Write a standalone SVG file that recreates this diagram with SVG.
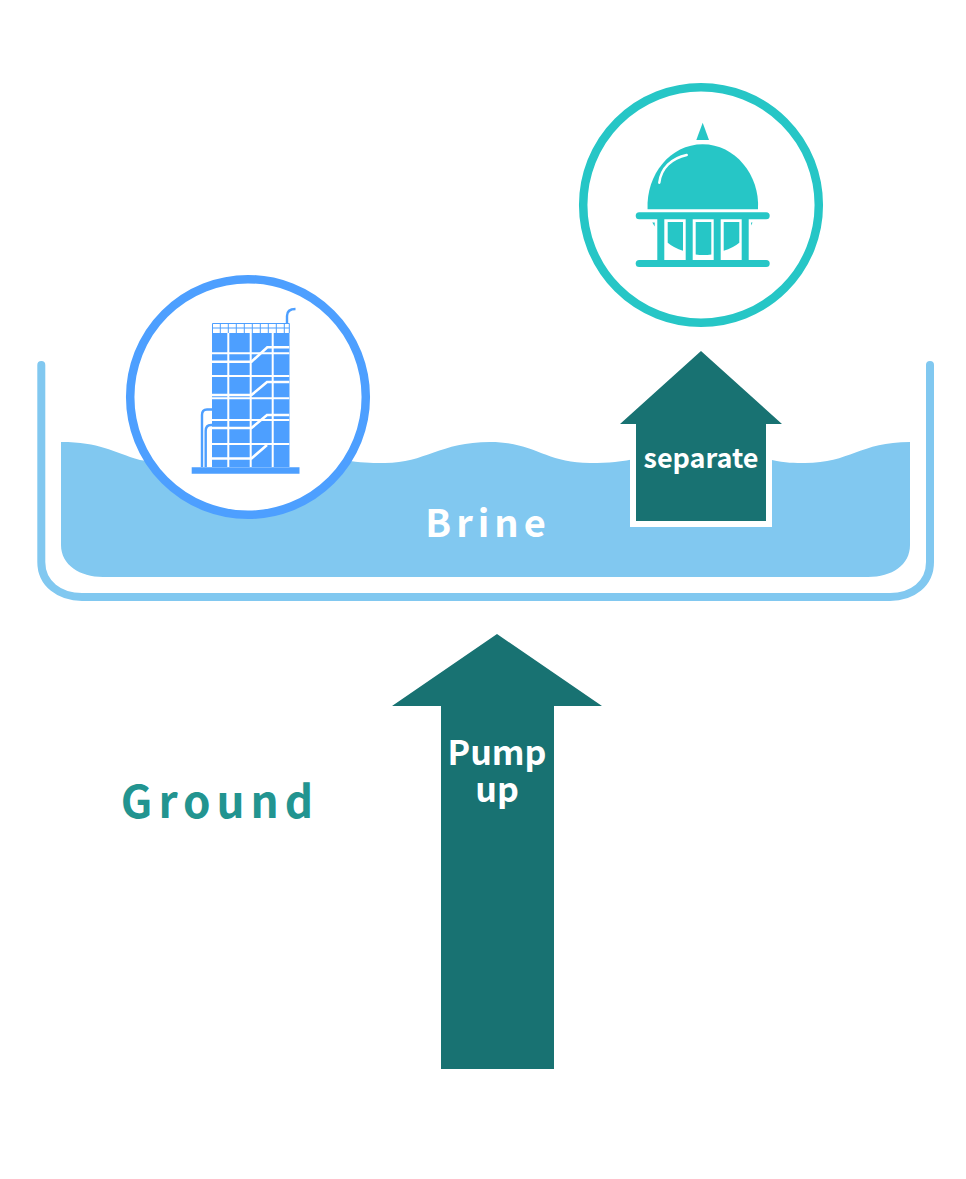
<svg xmlns="http://www.w3.org/2000/svg" width="966" height="1179" viewBox="0 0 966 1179">
<style>
text{font-family:"Noto Sans CJK JP","Noto Sans",sans-serif;font-weight:700;text-anchor:middle}
.lbl{fill:#fff}
.arrow{fill:#187272}
.ring{fill:#fff;stroke-width:8.5}
.bl{fill:none;stroke:#fff;stroke-width:2}
.st{fill:none;stroke:#fff;stroke-width:2.600}
.pipe{fill:none;stroke:#4d9fff;stroke-width:2.400}
.teal{fill:#26c6c6}
</style>
<rect width="966" height="1179" fill="#fff"/>
<g id="tank">
<path d="M41.300 365V562C41.300 584 60 597 82 597H890C912 597 930 584 930 562V365" fill="none" stroke="#81c8f0" stroke-width="8" stroke-linecap="round"/>
</g>
<g id="brine">
<path d="M61 442C100 442 112 452 140 460C200 470 300 470 350 461C365 463 375 463 385 463C425 463 440 442 490 442C535 442 545 463 590 463C610 463 620 462 640 458V527H772V460C785 463 795 463 805 463C850 463 860 442 910 442V545C910 565 892 577 868 577H103C80 577 61 565 61 545Z" fill="#81c8f0"/>
<text class="lbl" x="488" y="537" font-size="38" letter-spacing="5">Brine</text>
</g>
<g id="separate">
<path d="M630 424H772V527H630Z" fill="#fff"/>
<path class="arrow" d="M701 351L782 424H766V521H636V424H620Z"/>
<text class="lbl" x="701" y="468" font-size="27">separate</text>
</g>
<g id="plant">
<circle class="ring" cx="248" cy="397" r="117.800" stroke="#4d9fff"/>
<path fill="#4d9fff" d="M212 333H289.500V467H212Z"/>
<path fill="#4d9fff" d="M191.700 467.300H299.500V473.700H191.700Z"/>
<path fill="none" stroke="#4d9fff" stroke-width="1" d="M212.500 323.500H289.300V333M212.500 323.500V333M212.500 328H289.300M220.300 323.500V333M228.300 323.500V333M236.300 323.500V333M244.300 323.500V333M252.300 323.500V333M260.300 323.500V333M268.300 323.500V333M276.300 323.500V333M284.300 323.500V333"/>
<path class="bl" d="M228.300 333V467M250.700 333V467M272.700 333V467M212 353.300H289.300M212 376H289.300M212 398.300H289.300M212 420H289.300M212 444H289.300"/>
<path class="st" d="M212 361.700H251.500L267.300 347.300H289.300M212 395H251.500L267 382H289.300M212 428H251.500L267 415H289.300M212 458.500H251.500L267 445"/>
<path fill="#fff" d="M207.500 428H212V467H207.500Z"/>
<path class="pipe" d="M202 467V415Q202 409.500 207 409.500H212M205.700 467V431Q205.700 425 211 425H212"/>
<path class="pipe" d="M287 323V316Q287 309 295.500 309"/>
</g>
<g id="refinery">
<circle class="ring" cx="701" cy="205" r="117.800" stroke="#26c6c6"/>
<path class="teal" d="M702.700 122.700L709 140H696.300Z"/>
<path class="teal" d="M647.600 209.300C646 175 670 144.300 702.700 144.300C735 144.300 760 175 758 209.300Z"/>
<path fill="none" stroke="#fff" stroke-width="2.500" stroke-linecap="round" d="M659.300 182.700C661 168 672 158 686.700 155"/>
<rect class="teal" x="635.700" y="212.300" width="134" height="7" rx="3.500"/>
<rect class="teal" x="635.700" y="260" width="134" height="7" rx="3.500"/>
<path class="teal" d="M657.300 219h7v41h-7zM685.700 219h7v41h-7zM713.700 219h7v41h-7zM741.700 219h7v41h-7z"/>
<path class="teal" d="M667.700 222H683V250.700Q674 248 667.700 242.700ZM695.700 222H711.300V254.500Q703.500 255.500 695.700 254.500ZM723.700 222H739.300V242.700Q733 248 723.700 250.700Z"/>
<path class="teal" d="M652.300 222.500L654.700 222.500L654.700 226.500ZM751 222.500H752.500L751.300 225.500Z"/>
</g>
<g id="pump">
<path class="arrow" d="M497 634L602 706H554V1069H441V706H392Z"/>
<text class="lbl" font-size="34"><tspan x="497" y="765">Pump</tspan><tspan x="497" y="802">up</tspan></text>
</g>
<g id="ground">
<text x="220" y="818" font-size="44" letter-spacing="6" fill="#229490">Ground</text>
</g>
</svg>
